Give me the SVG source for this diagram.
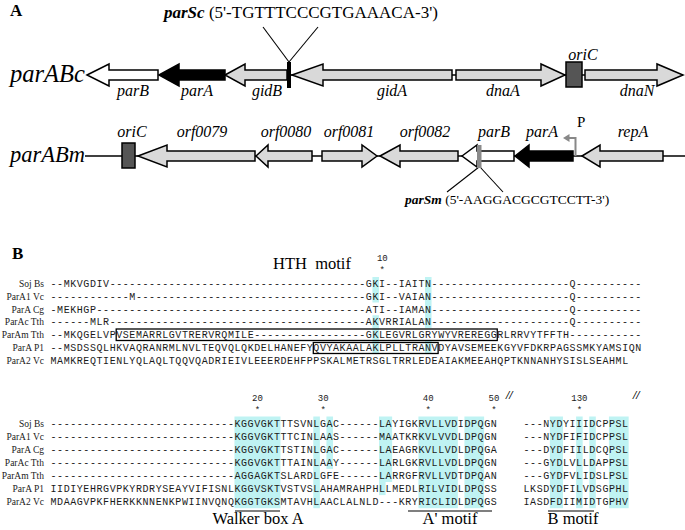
<svg xmlns="http://www.w3.org/2000/svg" width="685" height="530" viewBox="0 0 685 530">
<defs>
<style>
.panel{font-family:"Liberation Serif","Times New Roman",serif;font-weight:bold;font-size:17px;fill:#000}
.big{font-family:"Liberation Serif","Times New Roman",serif;font-style:italic;fill:#000}
.lbl{font-family:"Liberation Serif","Times New Roman",serif;font-style:italic;font-size:16px;fill:#000;text-anchor:middle}
.site{font-family:"Liberation Serif","Times New Roman",serif;fill:#000}
.gray{fill:#d9d9d9;stroke:#000;stroke-width:1.5;stroke-linejoin:miter}
.white{fill:#fff;stroke:#000;stroke-width:1.5}
.black{fill:#000;stroke:#000;stroke-width:1.5}
.ori{fill:#555;stroke:#000;stroke-width:1.5}
.ln{stroke:#000;stroke-width:1.5;fill:none}
.thin{stroke:#000;stroke-width:1.1;fill:none}
.seq{font-family:"Liberation Mono","Courier New",monospace;font-size:10px;letter-spacing:0.57px;fill:#1a1a1a}
.name{font-family:"Liberation Serif","Times New Roman",serif;font-size:9.5px;text-anchor:end;fill:#1a1a1a}
.num{font-family:"Liberation Mono","Courier New",monospace;font-size:9px;text-anchor:middle;fill:#1a1a1a}
.hl{fill:#bff3f3}
.box{fill:none;stroke:#000;stroke-width:1.3}
.motif{font-family:"Liberation Serif","Times New Roman",serif;font-size:16.5px;fill:#000}
.brk{font-family:"Liberation Serif","Times New Roman",serif;font-size:12px;font-weight:bold;font-style:italic;fill:#000}
</style>
</defs>
<rect width="685" height="530" fill="#fff"/>

<!-- Panel A -->
<text class="panel" x="10" y="16">A</text>
<text class="big" x="10" y="82" font-size="24.5">parABc</text>
<text class="big" x="10" y="162" font-size="22.5">parABm</text>

<g id="connectors">
  <line class="ln" x1="287" y1="75" x2="585" y2="75"/>
  <line class="ln" x1="85" y1="156" x2="685" y2="156"/>
  <line class="thin" x1="263" y1="27" x2="289" y2="62"/>
  <line class="thin" x1="318" y1="27" x2="289" y2="62"/>
  <line class="thin" x1="479" y1="167" x2="447" y2="192"/>
  <line class="thin" x1="480" y1="167" x2="503" y2="192"/>
  <path d="M575.5,156 V138 H569" fill="none" stroke="#888" stroke-width="2"/>
  <polygon points="563,138 569.5,134 569.5,142" fill="#888"/>
</g>

<!-- Row 1 genes -->
<g id="parB-c"><polygon class="white" points="87,75 109,64 109,70 158,70 158,80 109,80 109,86"/><text class="lbl" x="133" y="96">parB</text></g>
<g id="parA-c"><polygon class="black" points="159,75 179,64 179,70 225,70 225,80 179,80 179,86"/><text class="lbl" x="197" y="96">parA</text></g>
<g id="gidB"><polygon class="gray" points="225,75 245,64 245,70 287,70 287,80 245,80 245,86"/><text class="lbl" x="267" y="96">gidB</text></g>
<g id="parSc"><rect x="287" y="62" width="4" height="26" fill="#000"/>
  <text class="site" x="164" y="18" font-size="17"><tspan font-weight="bold" font-style="italic">parSc</tspan> (5'-TGTTTCCCGTGAAACA-3')</text></g>
<g id="gidA"><polygon class="gray" points="292,75 323,64 323,70 452,70 452,80 323,80 323,86"/><text class="lbl" x="392" y="96">gidA</text></g>
<g id="dnaA"><polygon class="gray" points="456,70 541,70 541,64 565,75 541,86 541,80 456,80"/><text class="lbl" x="503" y="96">dnaA</text></g>
<g id="oriC-c"><rect class="ori" x="566" y="62" width="16" height="25"/><text class="lbl" x="583" y="60">oriC</text></g>
<g id="dnaN"><polygon class="gray" points="585,70 657,70 657,64 683,75 657,86 657,80 585,80"/><text class="lbl" x="637" y="96">dnaN</text></g>

<!-- Row 2 genes -->
<g id="oriC-m"><rect class="ori" x="122" y="143" width="13" height="25"/><text class="lbl" x="132" y="137">oriC</text></g>
<g id="orf0079"><polygon class="gray" points="138,156 167,145 167,151 255,151 255,161 167,161 167,167"/><text class="lbl" x="202" y="137">orf0079</text></g>
<g id="orf0080"><polygon class="gray" points="256,156 268,145 268,151 312,151 312,161 268,161 268,167"/><text class="lbl" x="286" y="137">orf0080</text></g>
<g id="orf0081"><polygon class="gray" points="322,151 362,151 362,145 377,156 362,167 362,161 322,161"/><text class="lbl" x="349" y="137">orf0081</text></g>
<g id="orf0082"><polygon class="gray" points="380,156 400,145 400,151 458,151 458,161 400,161 400,167"/><text class="lbl" x="425" y="137">orf0082</text></g>
<g id="parB-m"><polygon class="white" points="462,156 477,145 477,151 514,151 514,161 477,161 477,167"/><text class="lbl" x="494" y="137">parB</text></g>
<g id="parSm"><rect x="477" y="145" width="4.5" height="23" fill="#8a8a8a"/>
  <text class="site" x="405" y="204" font-size="13.5"><tspan font-weight="bold" font-style="italic">parSm</tspan> (5'-AAGGACGCGTCCTT-3')</text></g>
<g id="parA-m"><polygon class="black" points="515,156 529,145 529,151 573,151 573,161 529,161 529,167"/><text class="lbl" x="542" y="137">parA</text></g>
<g id="promoter"><text class="site" x="577" y="127" font-size="15">P</text></g>
<g id="repA"><polygon class="gray" points="582,156 600,145 600,151 663,151 663,161 600,161 600,167"/><text class="lbl" x="633" y="137">repA</text></g>

<!-- Panel B -->
<text class="panel" x="12" y="259">B</text>
<text class="motif" x="273" y="269" font-size="17.5" style="white-space:pre">HTH  motif</text>
<text class="num" x="382.3" y="260.5">10</text>
<text class="num" x="382.3" y="273">*</text>

<g id="highlights-top">
  <rect class="hl" x="372.43" y="277" width="6.57" height="25.5"/>
  <rect class="hl" x="372.43" y="315.25" width="6.57" height="38.25"/>
  <rect class="hl" x="424.99" y="277" width="6.57" height="51"/>
  <rect class="hl" x="424.99" y="340.75" width="6.57" height="12.75"/>
</g>

<g id="alignment-top">
  <text class="name" x="44" y="287">Soj Bs</text>
  <text class="name" x="44" y="299.75">ParA1 Vc</text>
  <text class="name" x="44" y="312.5">ParA Cg</text>
  <text class="name" x="44" y="325.25">ParAc Tth</text>
  <text class="name" x="44" y="338">ParAm Tth</text>
  <text class="name" x="44" y="350.75">ParA P1</text>
  <text class="name" x="44" y="363.5">ParA2 Vc</text>
  <text class="seq" y="287"><tspan x="50.5">--MKVGDIV---------------------------------------</tspan><tspan x="365.86">GKI--IAITN---------------------</tspan><tspan x="569.53">Q----------</tspan></text>
  <text class="seq" y="299.75"><tspan x="50.5">------------M-----------------------------------</tspan><tspan x="365.86">GKI--VAIAN---------------------</tspan><tspan x="569.53">Q----------</tspan></text>
  <text class="seq" y="312.5"><tspan x="50.5">-MEKHGP-----------------------------------------</tspan><tspan x="365.86">ATI--IAMAN---------------------</tspan><tspan x="569.53">Q----------</tspan></text>
  <text class="seq" y="325.25"><tspan x="50.5">------MLR---------------------------------------</tspan><tspan x="365.86">AKVRRIALAN---------------------</tspan><tspan x="569.53">Q----------</tspan></text>
  <text class="seq" y="338"><tspan x="50.5">--MKQGELVPVSEMARRLGVTRERVRQMILE-----------------</tspan><tspan x="365.86">GKLEGVRLGRYWYVREREGGRLRRVYTFFTH-----------</tspan></text>
  <text class="seq" y="350.75" x="50.5">--MSDSSQLHKVAQRANRMLNVLTEQVQLQKDELHANEFYQVYAKAALAKLPLLTRANVDYAVSEMEEKGYVFDKRPAGSSMKYAMSIQN</text>
  <text class="seq" y="363.5" x="50.5">MAMKREQTIENLYQLAQLTQQVQADRIEIVLEEERDEHFPPSKALMETRSGLTRRLEDEAIAKMEEAHQPTKNNANHYSISLSEAHML</text>
  <rect class="box" x="116.2" y="329" width="381.06" height="11.5"/>
  <rect class="box" x="313.3" y="342.5" width="124.83" height="11"/>
</g>

<g id="highlights-bottom">
  <rect class="hl" x="234.46" y="416.5" width="46" height="91.7"/>
  <rect class="hl" x="313.3" y="416.5" width="6.57" height="91.7"/>
  <rect class="hl" x="326.44" y="416.5" width="6.57" height="52.4"/>
  <rect class="hl" x="379" y="416.5" width="13.14" height="65.5"/>
  <rect class="hl" x="379" y="482" width="6.57" height="13.1"/>
  <rect class="hl" x="418.42" y="416.5" width="39.42" height="91.7"/>
  <rect class="hl" x="464.41" y="416.5" width="19.71" height="91.7"/>
  <rect class="hl" x="549.82" y="416.5" width="13.14" height="91.7"/>
  <rect class="hl" x="576.1" y="416.5" width="6.57" height="91.7"/>
  <rect class="hl" x="589.24" y="416.5" width="6.57" height="91.7"/>
  <rect class="hl" x="608.95" y="416.5" width="19.71" height="91.7"/>
</g>

<g id="alignment-bottom">
  <text class="num" x="257.46" y="400.5">20</text><text class="num" x="257.46" y="413">*</text>
  <text class="num" x="323.16" y="400.5">30</text><text class="num" x="323.16" y="413">*</text>
  <text class="num" x="428.28" y="400.5">40</text><text class="num" x="428.28" y="413">*</text>
  <text class="num" x="493.98" y="400.5">50</text><text class="num" x="493.98" y="413">*</text>
  <text class="num" x="579.39" y="400.5">130</text><text class="num" x="579.39" y="413">*</text>
  <text class="brk" x="506" y="399">//</text>
  <text class="brk" x="633" y="399">//</text>
  <text class="name" x="44" y="426.5">Soj Bs</text>
  <text class="name" x="44" y="439.6">ParA1 Vc</text>
  <text class="name" x="44" y="452.7">ParA Cg</text>
  <text class="name" x="44" y="465.8">ParAc Tth</text>
  <text class="name" x="44" y="478.9">ParAm Tth</text>
  <text class="name" x="44" y="492">ParA P1</text>
  <text class="name" x="44" y="505.1">ParA2 Vc</text>
  <text class="seq" y="426.5"><tspan x="50.5">----------------------------</tspan><tspan x="234.46">KGGVGKTTTSVNLGAC------LAYIGKRVLLVDIDPQGN</tspan><tspan x="523.54">---NYDYIIIDCPPSL</tspan></text>
  <text class="seq" y="439.6"><tspan x="50.5">----------------------------</tspan><tspan x="234.46">KGGVGKTTTCINLAAS------MAATKRKVLVVDLDPQGN</tspan><tspan x="523.54">---NYDFIFIDCPPSL</tspan></text>
  <text class="seq" y="452.7"><tspan x="50.5">----------------------------</tspan><tspan x="234.46">KGGVGKTTSTINLGAC------LAEAGRKVLLVDLDPQGA</tspan><tspan x="523.54">---DYDFIILDCQPSL</tspan></text>
  <text class="seq" y="465.8"><tspan x="50.5">----------------------------</tspan><tspan x="234.46">KGGVGKTTTAINLAAY------LARLGKRVLLVDLDPQGN</tspan><tspan x="523.54">---GYDLVLLDAPPSL</tspan></text>
  <text class="seq" y="478.9"><tspan x="50.5">----------------------------</tspan><tspan x="234.46">AGGAGKTSLARDLGFE------LARRGFRVLLVDTDPQAN</tspan><tspan x="523.54">---GYDFVLIDSLPSL</tspan></text>
  <text class="seq" y="492"><tspan x="50.5">IIDIYEHRGVPKYRDRYSEAYVIFISNL</tspan><tspan x="234.46">KGGVSKTVSTVSLAHAMRAHPHLLMEDLRILVIDLDPQSS</tspan><tspan x="523.54">LKSDYDFILVDSGPHL</tspan></text>
  <text class="seq" y="505.1"><tspan x="50.5">MDAAGVPKFHERKKNNENKPWIINVQNQ</tspan><tspan x="234.46">KGGTGKSMTAVHLAACLALNLD---KRYRICLIDLDPQGS</tspan><tspan x="523.54">IASDFDIIMIDTGPHV</tspan></text>
</g>

<g id="motifs">
  <line class="thin" x1="235" y1="511" x2="280" y2="511"/>
  <line class="thin" x1="408" y1="511" x2="492" y2="511"/>
  <line class="thin" x1="548" y1="511" x2="594" y2="511"/>
  <text class="motif" x="258" y="524" text-anchor="middle">Walker box A</text>
  <text class="motif" x="450" y="524" text-anchor="middle">A' motif</text>
  <text class="motif" x="573" y="524" text-anchor="middle">B motif</text>
</g>
</svg>
